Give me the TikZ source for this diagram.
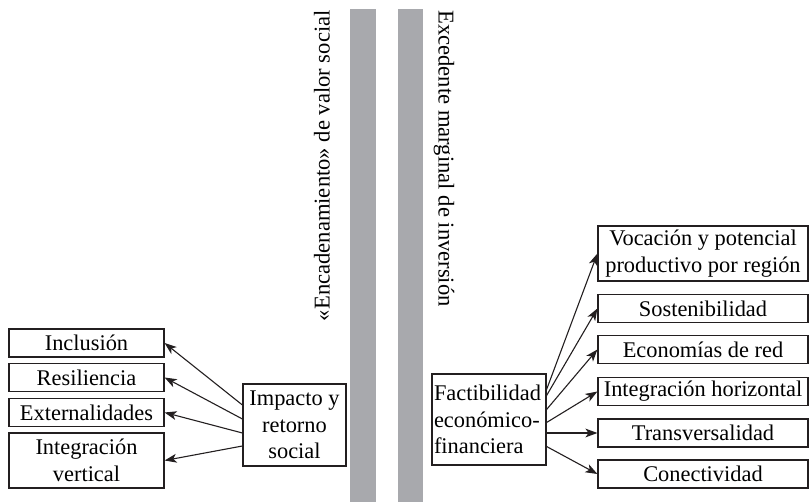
\documentclass[tikz,border=0pt]{standalone}
\usepackage{fontspec}
\setmainfont{Liberation Serif}
\usetikzlibrary{arrows.meta, calc}
\definecolor{bar}{HTML}{A8A9AD}
\definecolor{ink}{HTML}{231F20}

\begin{document}
\begin{tikzpicture}[
  x=0.5pt, y=-0.5pt,
  cell/.style={draw=ink, line width=0.6pt, fill=white, inner sep=0pt, align=center,
               minimum height=14pt, font=\fontsize{11.2}{13.25}\selectfont},
  tag/.style={font=\fontsize{11.3}{13}\selectfont, inner sep=0pt},
  link/.style={draw=ink, line width=0.55pt, -{Stealth[length=6pt, width=4.4pt, inset=1.6pt]}}
]
\useasboundingbox (0,0) rectangle (810,502);

% Grey columns with their vertical captions
\fill[bar] (350,9) rectangle (376,502);
\fill[bar] (398,9) rectangle (423,502);
\node[tag, rotate=90,  anchor=east] (cap1) at (322,10) {«Encadenamiento» de valor social};
\node[tag, rotate=-90, anchor=west] (cap2) at (444,10) {Excedente marginal de inversión};

% Left side — social value
\node[cell, minimum width=77.5pt] (inc) at (86.5,343)   {Inclusión};
\node[cell, minimum width=77.5pt] (res) at (86.5,377.5) {Resiliencia};
\node[cell, minimum width=77.5pt] (ext) at (86.5,412.5) {Externalidades};
\node[cell, minimum width=77.5pt, minimum height=27.5pt] (ver) at (86.5,460.5) {Integración\\vertical};
\node[cell, minimum width=51.5pt, minimum height=41pt] (imp) at (294.5,425) {Impacto y\\retorno\\social};

% Right side — investment surplus
\node[cell, align=left, text width=55pt, inner xsep=1pt, minimum height=45.5pt] (fac) at (489,419.5) {Factibilidad\\económico-\\financiera};
\node[cell, minimum width=105pt, minimum height=27.5pt] (voc) at (703,253.5) {Vocación y potencial\\productivo por región};
\node[cell, minimum width=105pt] (sos) at (703,308.5) {Sostenibilidad};
\node[cell, minimum width=105pt] (eco) at (703,349.5) {Economías de red};
\node[cell, minimum width=105pt] (hor) at (703,391.5) {Integración horizontal};
\node[cell, minimum width=105pt] (tra) at (703,433)   {Transversalidad};
\node[cell, minimum width=105pt] (con) at (703,474)   {Conectividad};

% Connectors, fanned out from the side of each hub box
\draw[link] ($(imp.west)+(0,-20)$) -- (inc.east);
\draw[link] ($(imp.west)+(0,-6)$)  -- (res.east);
\draw[link] ($(imp.west)+(0,8)$)   -- (ext.east);
\draw[link] ($(imp.west)+(0,21)$)  -- (ver.east);

\draw[link] ($(fac.east)+(0,-30)$)  -- (voc.west);
\draw[link] ($(fac.east)+(0,-24)$)  -- (sos.west);
\draw[link] ($(fac.east)+(0,-10)$)  -- (eco.west);
\draw[link] ($(fac.east)+(0,3)$)    -- (hor.west);
\draw[link] ($(fac.east)+(0,13.5)$) -- (tra.west);
\draw[link] ($(fac.east)+(0,27)$)   -- (con.west);
\end{tikzpicture}
\end{document}
